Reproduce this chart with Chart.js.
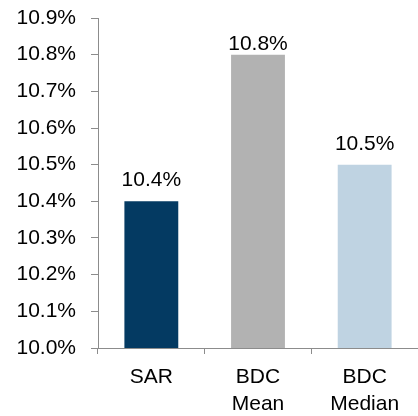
<!DOCTYPE html>
<html>
<head>
<meta charset="utf-8">
<script src="https://cdn.jsdelivr.net/npm/chart.js@4/dist/chart.umd.min.js"></script>
<style>
html,body{margin:0;padding:0;background:#fff;}
#wrap{width:418px;height:416px;position:relative;}
</style>
</head>
<body>
<div id="wrap"><canvas id="c" width="418" height="416"></canvas></div>
<script>
const categories = [["SAR"], ["BDC", "Mean"], ["BDC", "Median"]];
const values = [10.4, 10.8, 10.5];
const barColors = ["#043A62", "#B2B2B2", "#BFD3E2"];
const yMin = 10.0, yMax = 10.9, yStep = 0.1;

const FONT = "Arial, 'Liberation Sans', sans-serif";

const valueLabels = {
  id: 'valueLabels',
  afterDatasetsDraw(chart) {
    const ctx = chart.ctx;
    const meta = chart.getDatasetMeta(0);
    const minBase = chart.chartArea.top + 32;
    ctx.save();
    ctx.font = "21px " + FONT;
    ctx.fillStyle = "#000";
    ctx.textAlign = "center";
    ctx.textBaseline = "alphabetic";
    meta.data.forEach((bar, i) => {
      const yb = Math.max(bar.y - 15, minBase);
      ctx.fillText(values[i].toFixed(1) + "%", bar.x, yb);
    });
    ctx.restore();
  }
};

new Chart(document.getElementById('c'), {
  type: 'bar',
  data: {
    labels: categories,
    datasets: [{
      data: values,
      backgroundColor: barColors,
      borderWidth: 0,
      categoryPercentage: 1,
      barPercentage: 0.505
    }]
  },
  options: {
    responsive: false,
    animation: false,
    devicePixelRatio: 1,
    layout: { padding: { top: 0, right: 0, bottom: 0, left: 0 } },
    plugins: { legend: { display: false }, tooltip: { enabled: false } },
    scales: {
      y: {
        min: yMin, max: yMax,
        afterFit(scale) { scale.width = 98; scale.paddingTop = 18; scale.paddingBottom = 0; },
        ticks: {
          stepSize: yStep,
          color: "#000",
          font: { family: FONT, size: 21 },
          padding: 15,
          callback: v => v.toFixed(1) + "%"
        },
        grid: { drawOnChartArea: false, drawTicks: true, tickLength: 7, color: "#8C8C8C", lineWidth: 1 },
        border: { display: true, color: "#8C8C8C", width: 1 }
      },
      x: {
        afterFit(scale) { scale.height = 68; },
        ticks: {
          color: "#000",
          font: { family: FONT, size: 21, lineHeight: 1.28 },
          padding: 10,
          maxRotation: 0, autoSkip: false
        },
        grid: { offset: true, drawOnChartArea: false, drawTicks: true, tickLength: 6, color: "#8C8C8C", lineWidth: 1 },
        border: { display: true, color: "#8C8C8C", width: 1 }
      }
    }
  },
  plugins: [valueLabels]
});
</script>
</body>
</html>
